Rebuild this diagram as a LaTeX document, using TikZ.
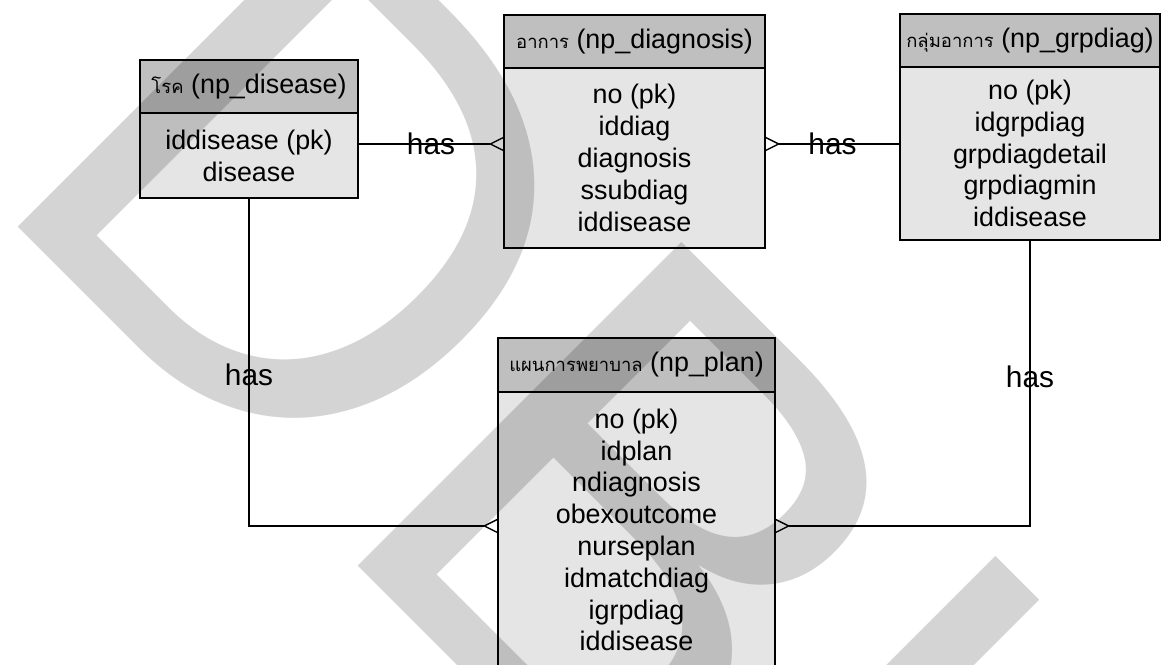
\documentclass[tikz,border=0pt]{standalone}
\usepackage{fontspec}
\setmainfont{Liberation Sans}
\newfontfamily\thaifont[Script=Thai]{Loma}
\newfontfamily\markfont{Liberation Sans}
\usetikzlibrary{positioning}
\usetikzlibrary{arrows.meta}
\definecolor{headgray}{gray}{0.75}
\definecolor{bodygray}{gray}{0.9}
\newcommand{\thai}[1]{{\thaifont\fontsize{10.5}{12}\selectfont #1}}

\begin{document}
\begin{tikzpicture}[x=0.02cm, y=-0.02cm,
    font=\fontsize{15.3}{18.1}\selectfont,
    head/.style={draw, line width=1.1pt, fill=headgray, minimum height=1.06cm, inner sep=0pt, outer sep=0pt},
    body/.style={draw, line width=1.1pt, fill=bodygray, align=center, inner sep=0pt, outer sep=0pt},
    link/.style={line width=0.8pt},
    crowend/.style={-{Straight Barb[reversed, length=0.26cm, width=0.26cm]}},
    crowstart/.style={{Straight Barb[reversed, length=0.26cm, width=0.26cm]}-},
    has/.style={font=\fontsize{17}{20}\selectfont, inner sep=0pt}]
    \useasboundingbox (0,0) rectangle (1162,664);
    \clip (0,0) rectangle (1162,664);

    %disease
    \node[head, minimum width=4.36cm] at (249,86.5) (dishead) {\thai{โรค} (np\_disease)};
    \node[body, minimum width=4.36cm, minimum height=1.7cm, below=0pt of dishead] (dis) {iddisease (pk)\\disease};
    %diagnosis
    \node[head, minimum width=5.22cm] at (634.5,41.5) (diaghead) {\thai{อาการ} (np\_diagnosis)};
    \node[body, minimum width=5.22cm, minimum height=3.6cm, below=0pt of diaghead] (diag) {no (pk)\\iddiag\\diagnosis\\ssubdiag\\iddisease};
    %grpdiag
    \node[head, minimum width=5.2cm] at (1030,40.5) (grphead) {\thai{กลุ่มอาการ} (np\_grpdiag)};
    \node[body, minimum width=5.2cm, minimum height=3.46cm, below=0pt of grphead] (grp) {no (pk)\\idgrpdiag\\grpdiagdetail\\grpdiagmin\\iddisease};
    %plan
    \node[head, minimum width=5.54cm, minimum height=1.08cm] at (636.5,365) (planhead) {\thai{แผนการพยาบาล} (np\_plan)};
    \node[body, minimum width=5.54cm, minimum height=5.52cm, below=0pt of planhead] (plan) {no (pk)\\idplan\\ndiagnosis\\obexoutcome\\nurseplan\\idmatchdiag\\igrpdiag\\iddisease};

    %disease - diagnosis
    \draw[link, crowend] ([yshift=0.23cm]dis.east) -- node[has] {has} ([yshift=0.23cm]dis.east -| diag.west);
    %diagnosis - grpdiag
    \draw[link, crowstart] ([yshift=0.28cm]diag.east) -- node[has] {has} ([yshift=0.28cm]diag.east -| grp.west);
    %disease - plan
    \draw[link, crowend] (dis.south) |- node[has, pos=0.27] {has} ([yshift=0.08cm]plan.west);
    %grpdiag - plan
    \draw[link, crowend] (grp.south) |- node[has, pos=0.24] {has} ([yshift=0.08cm]plan.east);

    %watermark
    \node[anchor=base west, rotate=-45, inner sep=0pt, outer sep=0pt, text=black, text opacity=0.17, font=\markfont\fontsize{378.8}{390}\selectfont] at (-20,188) (mark) {DBL};
\end{tikzpicture}
\end{document}
